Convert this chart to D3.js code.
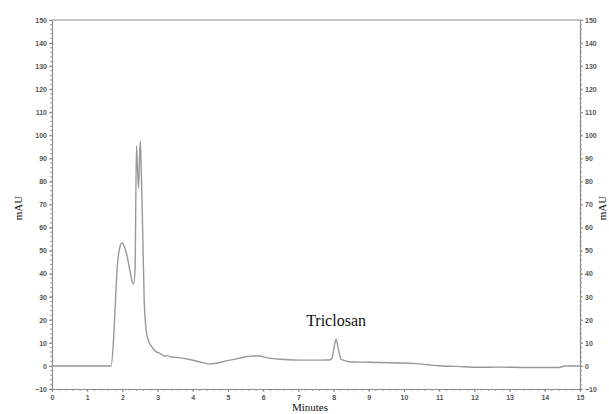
<!DOCTYPE html>
<html lang="en">
<head>
    <meta charset="UTF-8">
    <script src="https://d3js.org/d3.v7.min.js"></script>
    <title>Chromatogram - Triclosan</title>
    <style>
        body { margin: 0; background: #fff; }
        .tick text { font-family: Arial, "Liberation Sans", sans-serif; font-size: 7px; font-weight: bold; fill: #555; }
        .label { font-family: "Times New Roman", "Liberation Serif", serif; fill: #111; }
    </style>
</head>
<body>
    <div id="chart"></div>
    <script>
        // retention time (min) and detector signal (mAU)
        const minutes = [0, 1.68, 1.75, 1.80, 1.85, 1.92, 1.99, 2.06, 2.13, 2.21, 2.28, 2.32, 2.36, 2.40, 2.43, 2.46, 2.49, 2.51,
            2.54, 2.57, 2.62, 2.68, 2.75, 2.83, 2.95, 3.06, 3.15, 3.20, 3.27, 3.35, 3.53, 3.91, 4.20, 4.48, 4.70, 4.95,
            5.30, 5.71, 5.90, 6.09, 6.40, 6.84, 7.30, 7.88, 7.95, 8.00, 8.07, 8.14, 8.21, 8.30, 8.45, 9.00, 9.87, 10.34,
            10.70, 11.00, 11.50, 12.13, 12.70, 13.50, 14.40, 14.56, 15];
        const mAU = [0, 0, 12, 27, 42, 51, 53.4, 51.5, 48, 41.5, 36.5, 35.5, 42, 95.5, 85, 77, 92, 97.4,
            82, 63, 28, 15, 10.5, 8.4, 6.2, 5.5, 4.6, 4.2, 4.6, 4.0, 3.7, 2.8, 1.7, 0.9, 1.3, 2.2,
            3.3, 4.3, 4.3, 3.6, 3.0, 2.6, 2.5, 2.6, 3.2, 7, 11.6, 7, 3.0, 2.4, 1.8, 1.6, 1.3, 1.0,
            0.5, 0.1, -0.2, -0.6, -0.5, -0.7, -0.7, 0, 0];
        const xTicks = d3.range(0, 16, 1);
        const yTicks = d3.range(-10, 151, 10);
        const peakName = "Triclosan";
        const peakTime = 8.07;

        const w = 609, h = 414;
        const padL = 52, padR = 580, padT = 20, padB = 389;
        const axisColor = "#8c8c8c";

        const x = d3.scaleLinear().domain([0, 15]).range([padL, padR]);
        const y = d3.scaleLinear().domain([-10, 150]).range([padB, padT]);

        const svg = d3.select("#chart").append("svg")
            .attr("width", w)
            .attr("height", h);

        // minor ticks
        const minor = svg.append("g").attr("stroke", axisColor).attr("stroke-width", 0.8);
        d3.range(-10, 151, 2).forEach(v => {
            minor.append("line").attr("x1", padL - 2).attr("x2", padL).attr("y1", y(v)).attr("y2", y(v));
            minor.append("line").attr("x1", padR).attr("x2", padR + 2).attr("y1", y(v)).attr("y2", y(v));
        });
        d3.range(0, 15.01, 0.2).forEach(v => {
            minor.append("line").attr("x1", x(v)).attr("x2", x(v)).attr("y1", padB).attr("y2", padB + 2);
        });

        // axes
        const styleAxis = g => {
            g.select(".domain").attr("stroke", axisColor).attr("stroke-width", 1.2);
            g.selectAll(".tick line").attr("stroke", axisColor);
        };
        svg.append("g")
            .attr("transform", "translate(0," + padB + ")")
            .call(d3.axisBottom(x).tickValues(xTicks).tickSize(3).tickSizeOuter(0).tickPadding(3))
            .call(styleAxis);
        svg.append("g")
            .attr("transform", "translate(" + padL + ",0)")
            .call(d3.axisLeft(y).tickValues(yTicks).tickSize(3).tickSizeOuter(0).tickPadding(2))
            .call(styleAxis);
        svg.append("g")
            .attr("transform", "translate(" + padR + ",0)")
            .call(d3.axisRight(y).tickValues(yTicks).tickSize(3).tickSizeOuter(0).tickPadding(2))
            .call(styleAxis);
        svg.append("line")
            .attr("x1", padL).attr("x2", padR)
            .attr("y1", padT).attr("y2", padT)
            .attr("stroke", axisColor).attr("stroke-width", 1.2);

        // trace
        const pts = minutes.map((t, i) => [t, mAU[i]]);
        const line = d3.line()
            .x(d => x(d[0]))
            .y(d => y(d[1]))
            .curve(d3.curveMonotoneX);
        svg.append("path")
            .datum(pts)
            .attr("fill", "none")
            .attr("stroke", "#999")
            .attr("stroke-width", 1.4)
            .attr("d", line);

        // labels
        svg.append("text").attr("class", "label")
            .attr("x", x(peakTime)).attr("y", 326)
            .attr("text-anchor", "middle")
            .style("font-size", "16px")
            .text(peakName);
        svg.append("text").attr("class", "label")
            .attr("x", 310).attr("y", 411)
            .attr("text-anchor", "middle")
            .style("font-size", "11px")
            .text("Minutes");
        svg.append("text").attr("class", "label")
            .attr("transform", "translate(22,208) rotate(-90)")
            .attr("text-anchor", "middle")
            .style("font-size", "11px")
            .text("mAU");
        svg.append("text").attr("class", "label")
            .attr("transform", "translate(606,208) rotate(-90)")
            .attr("text-anchor", "middle")
            .style("font-size", "11px")
            .text("mAU");
    </script>
</body>
</html>
